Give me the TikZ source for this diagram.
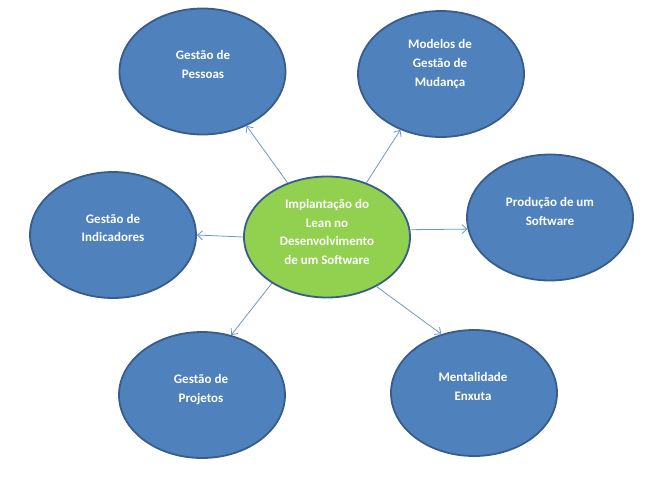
\documentclass[tikz,border=0pt]{standalone}
\usepackage{fontspec}
\setmainfont{Carlito}
\usetikzlibrary{shapes.geometric,arrows.meta}
\definecolor{bfill}{HTML}{4F81BD}
\definecolor{bline}{HTML}{385D8A}
\definecolor{gfill}{HTML}{92D050}
\definecolor{aline}{HTML}{6F96CC}
\tikzset{
  bub/.style={ellipse,draw=bline,line width=1.8pt,fill=bfill,inner sep=0pt,
    minimum width=166pt,minimum height=126pt},
  hub/.style={bub,fill=gfill,minimum height=121pt},
  lbl/.style={text=white,font=\fontsize{13}{18.7}\selectfont\bfseries,align=center,inner sep=0pt},
  conn/.style={draw=aline,line width=0.8pt,-{Straight Barb[length=5pt,width=9pt,line width=0.8pt]}}
}
\begin{document}
\begin{tikzpicture}[x=1pt,y=-1pt]
\useasboundingbox (0,0) rectangle (667,490);
\node[hub] (c) at (327,237) {};
\node[bub] (o1) at (202.5,71.5) {};
\node[bub] (o2) at (441,74) {};
\node[bub] (o3) at (113,235) {};
\node[bub] (o4) at (550,217.5) {};
\node[bub] (o5) at (202,395) {};
\node[bub] (o6) at (474,393) {};
\node[lbl] (t0) at (327,232) {Implantação do\\Lean no\\Desenvolvimento\\de um Software};
\node[lbl] (t1) at (203,64.5) {Gestão de\\Pessoas};
\node[lbl] (t2) at (440,64) {Modelos de\\Gestão de\\Mudança};
\node[lbl] (t3) at (113,228) {Gestão de\\Indicadores};
\node[lbl] (t4) at (550,211.5) {Produção de um\\Software};
\node[lbl] (t5) at (201,389.5) {Gestão de\\Projetos};
\node[lbl] (t6) at (473,386.5) {Mentalidade\\Enxuta};
\draw[conn] (c.126) -- (o1.309);
\draw[conn] (c.54) -- (o2.234);
\draw[conn] (c.180) -- (o3.0);
\draw[conn] (c.5) -- (o4.188);
\draw[conn] (c.220) -- (o5.64);
\draw[conn] (c.315.6) -- (o6.119.5);
\end{tikzpicture}
\end{document}
